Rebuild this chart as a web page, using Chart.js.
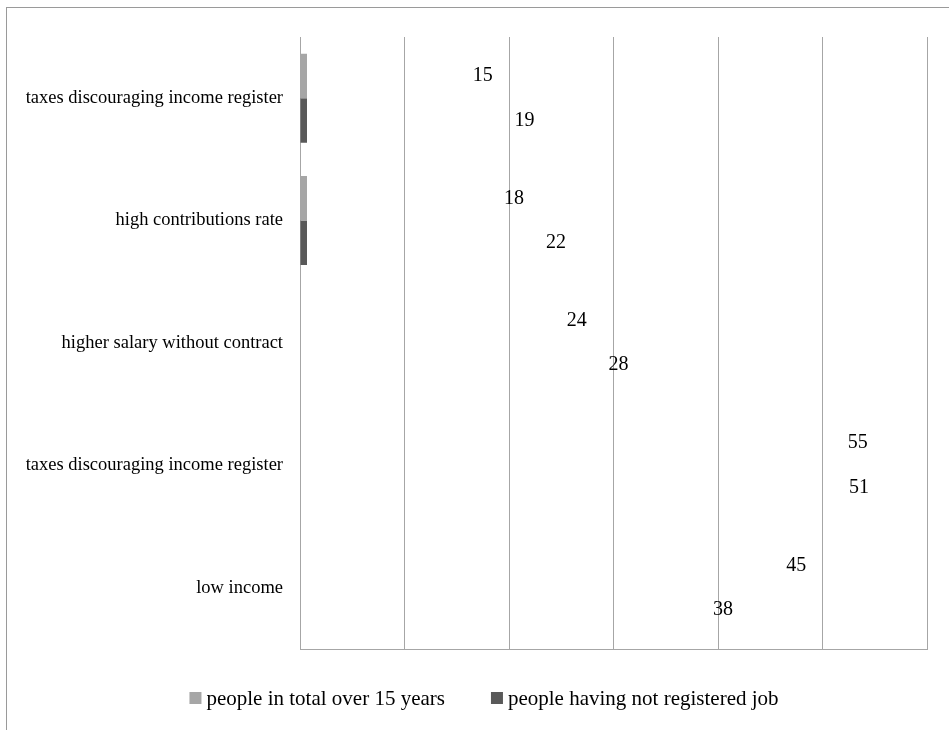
<!DOCTYPE html>
<html>
<head>
<meta charset="utf-8">
<script src="https://cdn.jsdelivr.net/npm/chart.js@4/dist/chart.umd.min.js"></script>
<style>
  html, body { margin: 0; padding: 0; background: #fff; }
  #wrap { position: relative; width: 949px; height: 730px; }
  #frame { position: absolute; left: 6px; top: 7px; width: 943px; height: 723px;
           border-top: 1px solid #9a9a9a; border-left: 1px solid #9a9a9a; box-sizing: border-box; pointer-events: none; }
  canvas { position: absolute; left: 0; top: 0; }
</style>
</head>
<body>
<div id="wrap">
  <canvas id="c" width="949" height="730"></canvas>
  <div id="frame"></div>
</div>
<script>
// ---- data ----
const categories = [
  'taxes discouraging income register',
  'high contributions rate',
  'higher salary without contract',
  'taxes discouraging income register',
  'low income'
];
const seriesNames = ['people in total over 15 years', 'people having not registered job'];
const totalOver15 = [15, 18, 24, 55, 45];
const notRegistered = [19, 22, 28, 51, 38];
const xMin = 0, xMax = 60, xStep = 10;

// ---- styles ----
const FONT = '"Liberation Serif", "Times New Roman", serif';
const colors = ['#a6a6a6', '#595959'];
const gridColor = '#a6a6a6';
const stubCategories = [0, 1];      // categories where only a short stub of the bar shows
const stubWidth = 7;

function stubFill(colorIdx) {
  return function (ctx) {
    const chart = ctx.chart;
    const area = chart.chartArea;
    if (!area || !stubCategories.includes(ctx.dataIndex)) return 'rgba(0,0,0,0)';
    const g = chart.ctx.createLinearGradient(area.left, 0, area.left + stubWidth, 0);
    g.addColorStop(0, colors[colorIdx]);
    g.addColorStop(0.999, colors[colorIdx]);
    g.addColorStop(1, 'rgba(255,255,255,0)');
    return g;
  };
}

const valueLabels = {
  id: 'valueLabels',
  afterDatasetsDraw(chart, args, opts) {
    const ctx = chart.ctx;
    ctx.save();
    ctx.font = '20px ' + FONT;
    ctx.fillStyle = '#000';
    ctx.textBaseline = 'middle';
    chart.data.datasets.forEach((ds, di) => {
      const meta = chart.getDatasetMeta(di);
      const inside = (opts.insideEnd && opts.insideEnd[di]) || [];
      meta.data.forEach((bar, i) => {
        const txt = String(ds.data[i]);
        if (inside.includes(i)) {
          ctx.textAlign = 'right';
          ctx.fillText(txt, bar.x - opts.insidePad, bar.y);
        } else {
          ctx.textAlign = 'left';
          ctx.fillText(txt, bar.x + opts.outsidePad, bar.y);
        }
      });
    });
    ctx.restore();
  }
};

const customLegend = {
  id: 'customLegend',
  afterDraw(chart, args, opts) {
    const ctx = chart.ctx;
    ctx.save();
    ctx.font = opts.fontSize + 'px ' + FONT;
    ctx.textBaseline = 'middle';
    ctx.textAlign = 'left';
    const items = chart.data.datasets.map((ds, i) => ({ text: ds.label, color: colors[i], w: ctx.measureText(ds.label).width }));
    let total = 0;
    items.forEach((it, i) => { total += opts.box + opts.boxGap + it.w + (i < items.length - 1 ? opts.itemGap : 0); });
    let x = (chart.width - total) / 2 + opts.shift;
    const y = opts.y;
    items.forEach(it => {
      ctx.fillStyle = it.color;
      ctx.fillRect(x, y - opts.box / 2, opts.box, opts.box);
      ctx.fillStyle = '#000';
      ctx.fillText(it.text, x + opts.box + opts.boxGap, y + 1);
      x += opts.box + opts.boxGap + it.w + opts.itemGap;
    });
    ctx.restore();
  }
};

new Chart(document.getElementById('c'), {
  type: 'bar',
  data: {
    labels: categories,
    datasets: [
      { label: seriesNames[0], data: totalOver15, backgroundColor: stubFill(0), borderWidth: 0 },
      { label: seriesNames[1], data: notRegistered, backgroundColor: stubFill(1), borderWidth: 0 }
    ]
  },
  options: {
    indexAxis: 'y',
    responsive: false,
    animation: false,
    maintainAspectRatio: false,
    layout: { padding: { top: 37, right: 22, bottom: 81, left: 0 } },
    datasets: { bar: { categoryPercentage: 0.727, barPercentage: 1 } },
    plugins: {
      legend: { display: false },
      tooltip: { enabled: false },
      valueLabels: { outsidePad: 16, insidePad: 7, insideEnd: [[3], []] },
      customLegend: { fontSize: 21, box: 12, boxGap: 5, itemGap: 46, shift: 9.5, y: 698 }
    },
    scales: {
      x: {
        min: xMin, max: xMax,
        ticks: { display: false, stepSize: xStep },
        grid: { color: gridColor, lineWidth: 1, drawTicks: false },
        border: { display: true, color: gridColor, width: 1 },
        afterFit(s) { s.height = 0; s.paddingLeft = 0; s.paddingRight = 0; }
      },
      y: {
        ticks: { color: '#000', font: { family: FONT, size: 18.5 }, padding: 9 },
        grid: { display: false },
        border: { display: true, color: gridColor, width: 1 },
        afterFit(s) { s.width = 300; s.paddingTop = 0; s.paddingBottom = 0; }
      }
    }
  },
  plugins: [valueLabels, customLegend]
});
</script>
</body>
</html>
